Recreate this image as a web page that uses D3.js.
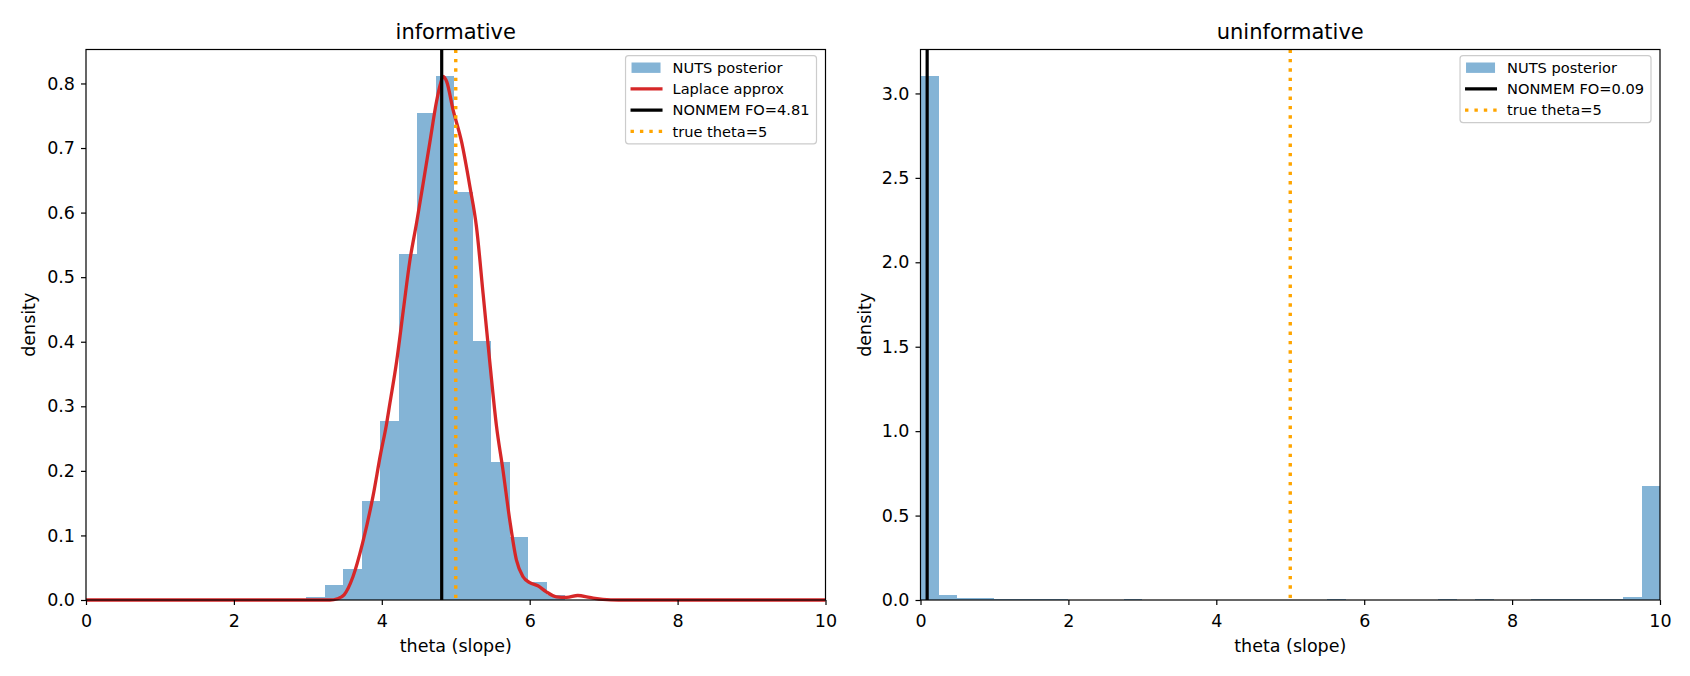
<!DOCTYPE html>
<html>
<head>
<meta charset="utf-8">
<script src="https://cdn.jsdelivr.net/npm/d3@7"></script>
<style>
  body { margin: 0; background: #fff; }
  svg { font-family: "DejaVu Sans", sans-serif; }
</style>
</head>
<body>
<div id="chart"></div>
<script>
// ---- data ----
// informative panel: histogram of NUTS draws
const leftEdges = [2.98, 3.23, 3.48, 3.73, 3.98, 4.23, 4.48, 4.73, 4.98, 5.23, 5.48, 5.73, 5.98, 6.23, 6.48];
const leftDensity = [0.005, 0.024, 0.048, 0.153, 0.277, 0.536, 0.754, 0.812, 0.632, 0.401, 0.214, 0.097, 0.028, 0.008];

// laplace approx curve
const laplaceX = [0, 3.3, 3.4, 3.49, 3.61, 3.74, 3.88, 3.985, 4.06, 4.11, 4.2, 4.29, 4.38, 4.47, 4.56, 4.65, 4.74, 4.79, 4.83, 4.88,
  4.96, 5.08, 5.19, 5.28, 5.37, 5.46, 5.55, 5.64, 5.73, 5.82, 5.91, 6.0, 6.11, 6.22, 6.36, 6.5, 6.65, 6.81, 6.99, 7.2, 10];
const laplaceY = [0, 0, 0.002, 0.008, 0.036, 0.088, 0.16, 0.227, 0.27, 0.305, 0.369, 0.448, 0.526, 0.584, 0.646, 0.709, 0.772, 0.798, 0.811, 0.802,
  0.761, 0.709, 0.641, 0.578, 0.474, 0.369, 0.27, 0.2, 0.124, 0.062, 0.036, 0.027, 0.022, 0.013, 0.005, 0.004, 0.007, 0.004, 0.001, 0, 0];

// uninformative panel
const rightEdges = [0, 0.25, 0.5, 0.75, 1, 1.25, 1.5, 1.75, 2, 2.25, 2.5, 2.75, 3, 3.25, 3.5, 3.75, 4, 4.25, 4.5, 4.75, 5,
  5.25, 5.5, 5.75, 6, 6.25, 6.5, 6.75, 7, 7.25, 7.5, 7.75, 8, 8.25, 8.5, 8.75, 9, 9.25, 9.5, 9.75, 10];
const rightDensity = [3.105, 0.031, 0.014, 0.014, 0.006, 0.005, 0.005, 0.004, 0, 0, 0, 0.006, 0, 0, 0, 0, 0, 0, 0, 0,
  0, 0, 0.005, 0, 0, 0, 0, 0, 0.005, 0, 0.005, 0, 0, 0.004, 0.004, 0.004, 0.004, 0.004, 0.02, 0.674];

const xTicks = [0, 2, 4, 6, 8, 10];
const leftYTicks = [0, 0.1, 0.2, 0.3, 0.4, 0.5, 0.6, 0.7, 0.8];
const rightYTicks = [0, 0.5, 1, 1.5, 2, 2.5, 3];

const panels = [
  { title: "informative", edges: leftEdges, dens: leftDensity, yTicks: leftYTicks, fo: 4.81, truth: 5,
    curve: true, legend: ["NUTS posterior", "Laplace approx", "NONMEM FO=4.81", "true theta=5"] },
  { title: "uninformative", edges: rightEdges, dens: rightDensity, yTicks: rightYTicks, fo: 0.09, truth: 5,
    curve: false, legend: ["NUTS posterior", "NONMEM FO=0.09", "true theta=5"] }
];

// ---- layout ----
const W = 1690, H = 676;
const boxes = [{ x0: 86, x1: 825.5 }, { x0: 920.5, x1: 1660 }];
const plotTop = 49.5, plotBottom = 600;

const svg = d3.select("#chart").append("svg").attr("width", W).attr("height", H);

const blue = "#1f77b4", red = "#d62728", orange = "#ffa500";

panels.forEach((p, i) => {
    const b = boxes[i];
    const x = d3.scaleLinear().domain([0, 10]).range([b.x0, b.x1]);
    const y = d3.scaleLinear().domain([0, d3.max(p.dens) * 1.05]).range([plotBottom, plotTop]);
    const g = svg.append("g");

    // bars
    g.selectAll("rect.bar")
        .data(p.dens)
        .enter()
        .append("rect")
        .attr("class", "bar")
        .attr("x", (d, k) => x(p.edges[k]))
        .attr("width", (d, k) => x(p.edges[k + 1]) - x(p.edges[k]))
        .attr("y", d => y(d))
        .attr("height", d => y(0) - y(d))
        .attr("fill", blue)
        .attr("fill-opacity", 0.55)
        .attr("shape-rendering", "crispEdges");

    if (p.curve) {
        const line = d3.line()
            .x((d, k) => x(laplaceX[k]))
            .y(d => y(d))
            .curve(d3.curveMonotoneX);
        g.append("path")
            .attr("d", line(laplaceY))
            .attr("fill", "none")
            .attr("stroke", red)
            .attr("stroke-width", 3.3);
    }

    g.append("line")
        .attr("x1", x(p.fo)).attr("x2", x(p.fo))
        .attr("y1", plotTop).attr("y2", plotBottom)
        .attr("stroke", "#000").attr("stroke-width", 3.2);

    g.append("line")
        .attr("x1", x(p.truth)).attr("x2", x(p.truth))
        .attr("y1", plotTop).attr("y2", plotBottom)
        .attr("stroke", orange).attr("stroke-width", 3.4)
        .attr("stroke-dasharray", "3.4,6");

    // axes
    const xa = g.append("g").attr("transform", `translate(0,${plotBottom})`)
        .call(d3.axisBottom(x).tickValues(xTicks).tickFormat(d3.format("d")).tickSize(5).tickPadding(5));
    const ya = g.append("g").attr("transform", `translate(${b.x0},0)`)
        .call(d3.axisLeft(y).tickValues(p.yTicks).tickFormat(d3.format(".1f")).tickSize(5).tickPadding(6));
    [xa, ya].forEach(a => {
        a.select(".domain").remove();
        a.selectAll("text").attr("font-size", 17.5).attr("fill", "#000").attr("font-family", "DejaVu Sans");
        a.selectAll("line").attr("stroke", "#000").attr("stroke-width", 1.2);
    });
    xa.selectAll("text").attr("dy", "0.95em");

    g.append("rect")
        .attr("x", b.x0).attr("y", plotTop)
        .attr("width", b.x1 - b.x0).attr("height", plotBottom - plotTop)
        .attr("fill", "none").attr("stroke", "#000").attr("stroke-width", 1.2);

    // labels
    g.append("text")
        .attr("x", (b.x0 + b.x1) / 2).attr("y", 39)
        .attr("text-anchor", "middle").attr("font-size", 21)
        .text(p.title);
    g.append("text")
        .attr("x", (b.x0 + b.x1) / 2).attr("y", 652)
        .attr("text-anchor", "middle").attr("font-size", 17.5)
        .text("theta (slope)");
    const lx = i === 0 ? 35 : 870.5;
    g.append("text")
        .attr("transform", `translate(${lx},${(plotTop + plotBottom) / 2}) rotate(-90)`)
        .attr("text-anchor", "middle").attr("font-size", 17.5)
        .text("density");

    // legend
    const leg = g.append("g");
    const rowH = 21.2, legTop = 55.7;
    const frame = leg.append("rect")
        .attr("y", legTop).attr("rx", 3)
        .attr("height", 12 + (p.legend.length - 1) * rowH + 12.5)
        .attr("fill", "#fff").attr("fill-opacity", 0.8)
        .attr("stroke", "#cccccc").attr("stroke-width", 1.2);
    const texts = leg.selectAll("text")
        .data(p.legend)
        .enter()
        .append("text")
        .attr("y", (d, k) => legTop + 12 + k * rowH + 5.2)
        .attr("font-size", 14.6)
        .text(d => d);
    let tw = 0;
    texts.each(function() { tw = Math.max(tw, this.getComputedTextLength()); });
    const lw = tw + 54;
    const lx0 = b.x1 - 9 - lw;
    frame.attr("x", lx0).attr("width", lw);
    texts.attr("x", lx0 + 47);

    p.legend.forEach((name, k) => {
        const cy = legTop + 12 + k * rowH;
        if (name.startsWith("NUTS")) {
            leg.append("rect").attr("x", lx0 + 6).attr("y", cy - 5.2)
                .attr("width", 29).attr("height", 10.4)
                .attr("fill", blue).attr("fill-opacity", 0.55);
        } else {
            const col = name.startsWith("Laplace") ? red : name.startsWith("NONMEM") ? "#000" : orange;
            const l = leg.append("line")
                .attr("x1", lx0 + 5).attr("x2", lx0 + 37)
                .attr("y1", cy).attr("y2", cy)
                .attr("stroke", col).attr("stroke-width", 3.2);
            if (col === orange) l.attr("stroke-dasharray", "3.4,6");
        }
    });
});
</script>
</body>
</html>
